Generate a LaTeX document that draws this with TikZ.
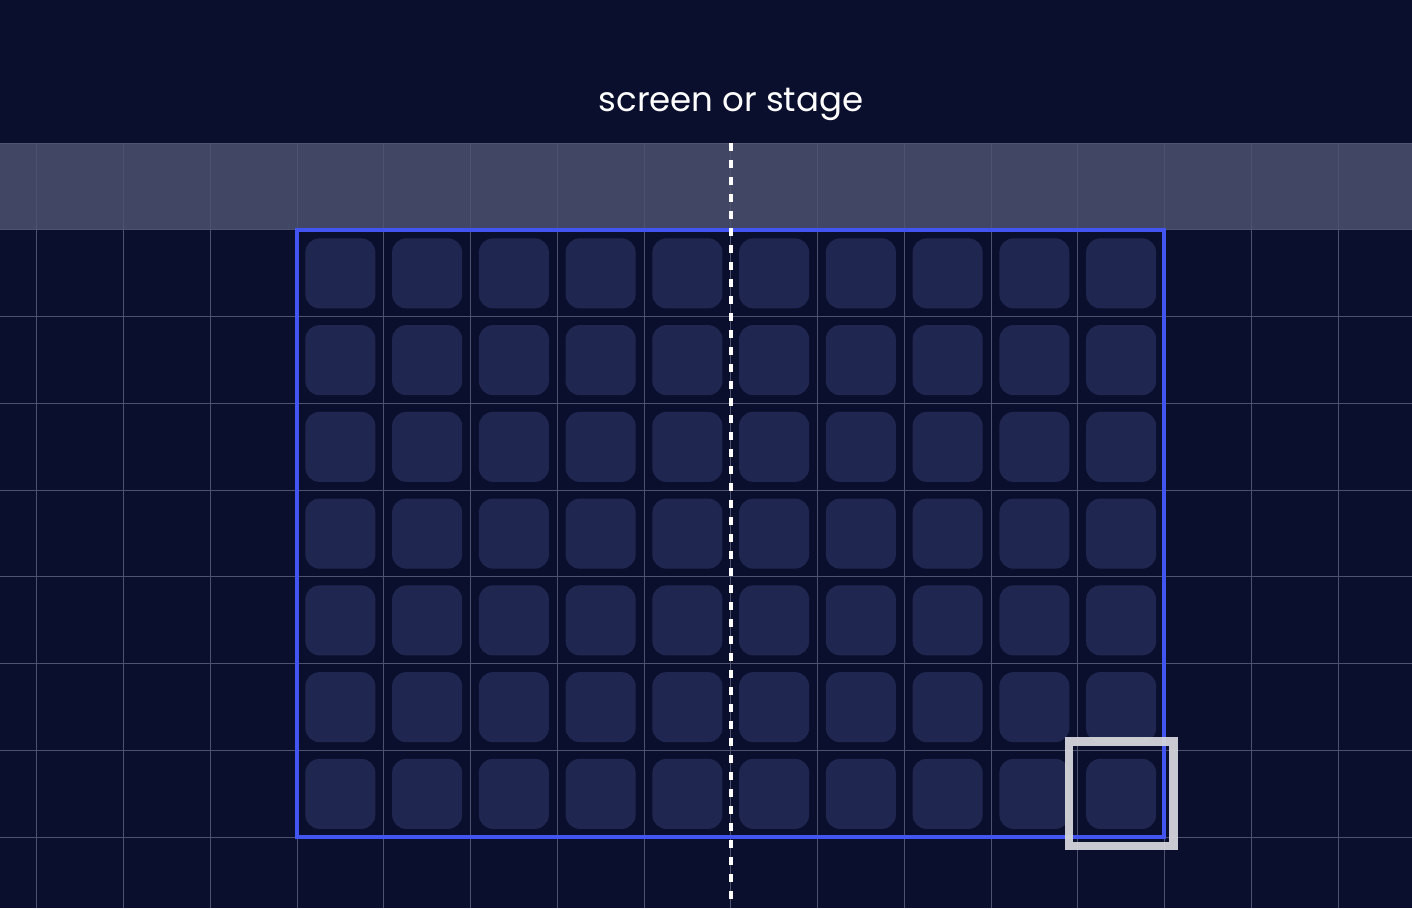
\documentclass[tikz,border=0pt]{standalone}
\usepackage{fontspec}
\setmainfont{Poppins}
\usetikzlibrary{calc}

\definecolor{bgdark}{HTML}{0B0F2E}
\definecolor{bandgray}{HTML}{424665}
\definecolor{gridline}{HTML}{4E526F}
\definecolor{seatfill}{HTML}{1F2750}
\definecolor{zoneblue}{HTML}{4355F0}
\definecolor{pickgray}{HTML}{D4D5DA}

\tikzset{
  seat/.style={fill=seatfill, rounded corners=14pt, minimum size=70pt, inner sep=0pt},
  pick/.style={draw=pickgray, draw opacity=0.95, line width=8.5pt, minimum size=104.5pt, inner sep=0pt},
}

\begin{document}
\begin{tikzpicture}[x=1pt,y=-1pt]

\useasboundingbox (0,0) rectangle (1412,908);
\fill[bgdark] (0,0) rectangle (1412,908);

% stage band
\fill[bandgray] (0,143) rectangle (1412,230);

% grid
\foreach \i in {0,...,15}
  \draw[gridline, line width=1pt] ({36.75+\i*86.75},143) -- ({36.75+\i*86.75},908);
\foreach \j in {0,...,8}
  \draw[gridline, line width=1pt] (0,{143+\j*86.75}) -- (1412,{143+\j*86.75});

% seats
\foreach \r in {0,...,6}
  \foreach \c in {0,...,9}
    \node[seat] (s-\r-\c) at ({297+(\c+0.5)*86.75},{230+(\r+0.5)*86.75}) {};

% seating zone
\draw[zoneblue, line width=3.5pt] (297,230) rectangle (1164,837);

% picked seat
\node[pick] (picked) at (s-6-9) {};

% centre line
\coordinate (ctop) at (731,143);
\coordinate (cbot) at (731,908);
\draw[white, line width=4pt, dash pattern=on 8pt off 9pt] (ctop) -- (cbot);

\node[white, font=\fontsize{34}{40}\selectfont] (stage) at (731,104) {screen or stage};

\end{tikzpicture}
\end{document}
